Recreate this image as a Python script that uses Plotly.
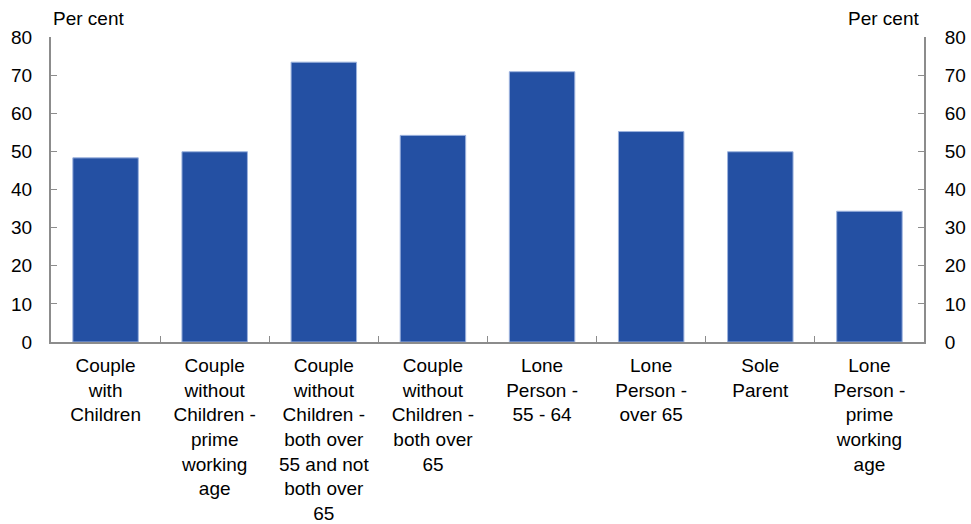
import plotly.graph_objects as go

categories = [
    "Couple<br>with<br>Children",
    "Couple<br>without<br>Children -<br>prime<br>working<br>age",
    "Couple<br>without<br>Children -<br>both over<br>55 and not<br>both over<br>65",
    "Couple<br>without<br>Children -<br>both over<br>65",
    "Lone<br>Person -<br>55 - 64",
    "Lone<br>Person -<br>over 65",
    "Sole<br>Parent",
    "Lone<br>Person -<br>prime<br>working<br>age",
]
values = [48.3, 49.9, 73.4, 54.2, 70.9, 55.2, 49.9, 34.3]
y_ticks = [0, 10, 20, 30, 40, 50, 60, 70, 80]

FONT = "Liberation Sans, Arial, sans-serif"
AXIS_COLOR = "#8c8c8c"
FS = 19

fig = go.Figure()
fig.add_trace(go.Bar(
    x=categories, y=values,
    marker=dict(color="#2450A3", line=dict(color="#9db3de", width=1)),
    width=0.6, hoverinfo="skip",
))
fig.add_trace(go.Scatter(
    x=categories, y=values, yaxis="y2", mode="markers",
    marker=dict(opacity=0), hoverinfo="skip", showlegend=False,
))

fig.update_layout(
    width=971, height=524,
    margin=dict(l=51, r=47, t=37, b=182),
    plot_bgcolor="white", paper_bgcolor="white",
    showlegend=False,
    font=dict(family=FONT, size=FS, color="black"),
    xaxis=dict(
        showline=True, linecolor=AXIS_COLOR, linewidth=2,
        ticks="inside", ticklen=6, tickcolor=AXIS_COLOR, tickwidth=1,
        tickson="boundaries", tickangle=0, automargin=False,
        ticklabelstandoff=5,
        tickfont=dict(size=FS), showgrid=False,
    ),
    yaxis=dict(
        range=[0, 80], tickvals=y_ticks, automargin=False,
        showline=True, linecolor=AXIS_COLOR, linewidth=2,
        ticks="inside", ticklen=6, tickcolor=AXIS_COLOR,
        ticklabelstandoff=13,
        showgrid=False, zeroline=False, tickfont=dict(size=FS),
    ),
    yaxis2=dict(
        range=[0, 80], tickvals=y_ticks, overlaying="y", side="right",
        automargin=False,
        showline=True, linecolor=AXIS_COLOR, linewidth=2,
        ticks="inside", ticklen=6, tickcolor=AXIS_COLOR,
        ticklabelstandoff=15,
        showgrid=False, zeroline=False, tickfont=dict(size=FS),
    ),
    annotations=[
        dict(text="Per cent", xref="paper", yref="paper", x=0, y=1,
             xanchor="left", yanchor="bottom", yshift=6, xshift=0, showarrow=False,
             font=dict(size=FS)),
        dict(text="Per cent", xref="paper", yref="paper", x=1, y=1,
             xanchor="right", yanchor="bottom", yshift=6, xshift=-3, showarrow=False,
             font=dict(size=FS)),
    ],
)

fig.write_html(
    "out.html",
    config={"displayModeBar": False},
    post_script="document.body.style.margin='0';document.body.style.overflow='hidden';",
)
